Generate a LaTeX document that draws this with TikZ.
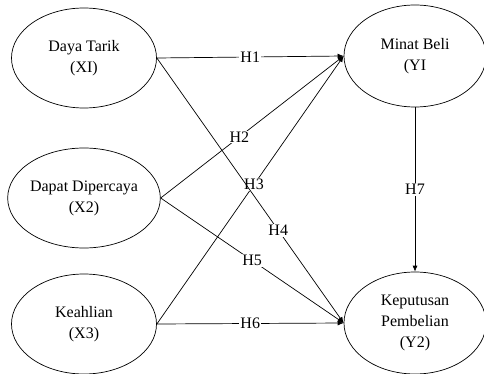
\documentclass[tikz,border=0pt]{standalone}
\usepackage{fontspec}
\setmainfont{Liberation Serif}
\usepackage{tikz}
\usetikzlibrary{shapes.geometric,arrows.meta}

\begin{document}
\begin{tikzpicture}[x=1pt,y=-1pt,line width=0.7pt,
	var/.style={ellipse,draw,minimum width=145pt,minimum height=100pt,inner sep=0pt,align=center,font=\fontsize{16}{21}\selectfont},
	hyp/.style={fill=white,inner sep=1pt,font=\fontsize{16}{19}\selectfont},
	>={Latex[length=6pt,width=5pt]}]
	\useasboundingbox (0,0) rectangle (484,374);
			\node[var] (x1) at (84,58) {Daya Tarik\\(XI)};
			\node[var] (x2) at (84,198) {Dapat Dipercaya\\(X2)};
			\node[var] (x3) at (84,324) {Keahlian\\(X3)};
			\node[var,minimum width=142pt,minimum height=102pt] (y1) at (415,56) {Minat Beli\\(YI};
			\node[var,minimum width=142pt,minimum height=102pt] (y2) at (415,323) {Keputusan\\Pembelian\\(Y2)};
			\draw[->] (x1.east) -- node[hyp] {H1} (y1.west);
			\draw[->] (x2.east) -- node[hyp,pos=0.43] {H2} (y1.west);
			\draw[->] (x3.east) -- node[hyp,pos=0.52] {H3} (y1.west);
			\draw[->] (x1.east) -- node[hyp,pos=0.65] {H4} (y2.west);
			\draw[->] (x2.east) -- node[hyp,pos=0.5] {H5} (y2.west);
			\draw[->] (x3.east) -- node[hyp] {H6} (y2.west);
			\draw[->] (y1.south) -- node[hyp] {H7} (y2.north);
		\end{tikzpicture}
\end{document}
